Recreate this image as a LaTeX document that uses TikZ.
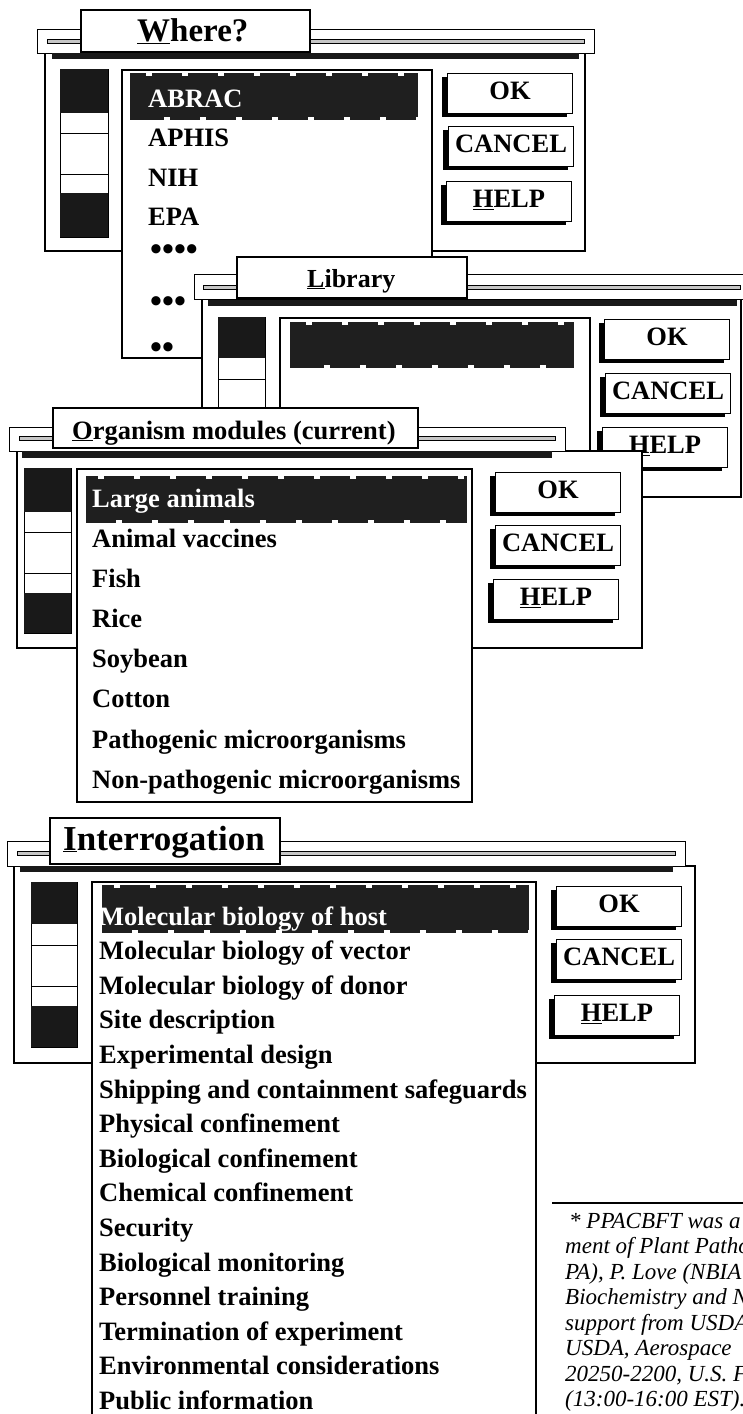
\documentclass[tikz,border=0pt]{standalone}
\usepackage{fontspec}
\setmainfont{Liberation Serif}
\usetikzlibrary{shadows}
\newcommand{\itemfont}{\bfseries\fontsize{26.5}{30}\selectfont}
\newcommand{\notafont}{\itshape\fontsize{23}{25}\selectfont}
\begin{document}
\begin{tikzpicture}[x=1pt, y=-1pt,
  janela/.style={draw, line width=2pt, fill=white},
  faixa/.style={draw, line width=1pt, fill=white},
  trilho/.style={draw, line width=0.6pt, fill=gray!45},
  titulo/.style={draw, line width=1.2pt, fill=white},
  barra/.style={fill=black!90},
  rolagem/.style={draw, line width=1pt, fill=white},
  lista/.style={draw, line width=1.3pt, fill=white},
  selecao/.style={fill=black!88},
  dentes/.style={white, line width=3pt, dash pattern=on 6pt off 30pt},
  rotulo/.style={anchor=base west, inner sep=0pt},
  item/.style={anchor=base west, inner sep=0pt, font=\itemfont},
  pontos/.style={anchor=base west, inner sep=0pt, font=\bfseries\fontsize{34}{36}\selectfont},
  botao/.style={draw, line width=1pt, fill=white, minimum width=125pt, minimum height=40pt,
    inner sep=0pt, text height=17pt, text depth=4pt, font=\itemfont,
    drop shadow={shadow xshift=-6pt, shadow yshift=-4pt, fill=black, opacity=1}},
  nota/.style={anchor=base west, inner sep=0pt, font=\notafont}]
\path[use as bounding box] (0,0) rectangle (743,1414);
\clip (0,0) rectangle (743,1414);
% Janela Where?
\draw[janela] (45,53) rectangle (585,251);
\draw[faixa] (37,29) rectangle (594,53);
\draw[trilho] (47,39) rectangle (584,43);
\draw[titulo] (81,10) rectangle (310,52);
\node[rotulo, font=\bfseries\fontsize{33}{36}\selectfont] (whereT) at (137,41) {\underline{W}here?};
\fill[barra] (52,53) rectangle (579,59);
\draw[rolagem] (60,69) rectangle (108,237);
\fill[barra] (60,69) rectangle (108,113);
\fill[barra] (60,193) rectangle (108,237);
\draw (60,133) -- (108,133);
\draw (60,174) -- (108,174);
\draw[lista] (122,70) rectangle (432,358);
\fill[selecao] (130,73) rectangle (418,120);
\draw[dentes] (146,74.5) -- (418,74.5);
\draw[dentes] (164,118.5) -- (418,118.5);
\node[item, text=white] (abrac) at (148,107) {ABRAC};
\node[item] (aphis) at (148,146.5) {APHIS};
\node[item] (nih) at (148,186) {NIH};
\node[item] (epa) at (148,225.5) {EPA};
\node[pontos] (pontos4) at (150,260) {••••};
\node[pontos] (pontos3) at (150,312) {•••};
\node[pontos] (pontos2) at (150,358) {••};
\node[botao] (okA) at (510,93) {OK};
\node[botao] (cancelA) at (511,146) {CANCEL};
\node[botao] (helpA) at (509,201) {\underline{H}ELP};
% Janela Library
\draw[janela] (202,299) rectangle (741,497);
\draw[faixa] (194,274) rectangle (750,299);
\draw[trilho] (203,285) rectangle (740,289);
\draw[titulo] (237,257) rectangle (467,298);
\node[rotulo, font=\bfseries\fontsize{26}{30}\selectfont] (libT) at (307,287) {\underline{L}ibrary};
\fill[barra] (208,300) rectangle (737,306);
\draw[rolagem] (218,317) rectangle (265,482);
\fill[barra] (218,317) rectangle (265,358);
\draw (218,379) -- (265,379);
\draw[lista] (280,318) rectangle (590,480);
\fill[selecao] (290,322) rectangle (574,368);
\draw[dentes] (306,323.5) -- (574,323.5);
\draw[dentes] (324,366.5) -- (574,366.5);
\node[botao] (okB) at (667,339) {OK};
\node[botao] (cancelB) at (668,393) {CANCEL};
\node[botao] (helpB) at (665,447) {\underline{H}ELP};
% Janela Organism modules
\draw[janela] (17,451) rectangle (642,648);
\draw[faixa] (9,427) rectangle (565,451);
\draw[trilho] (19,436) rectangle (555,440);
\draw[titulo] (53,408) rectangle (418,448);
\node[rotulo, font=\bfseries\fontsize{26.5}{30}\selectfont] (orgT) at (72,439) {\underline{O}rganism modules (current)};
\fill[barra] (22,451) rectangle (552,458);
\draw[rolagem] (24,468) rectangle (71,633);
\fill[barra] (24,468) rectangle (71,512);
\fill[barra] (24,593) rectangle (71,633);
\draw (24,532) -- (71,532);
\draw (24,573) -- (71,573);
\draw[lista] (77,469) rectangle (472,802);
\fill[selecao] (86,476) rectangle (467,523);
\draw[dentes] (98,477.5) -- (467,477.5);
\draw[dentes] (116,521.5) -- (467,521.5);
\node[item, text=white] (grandes) at (92,507) {Large animals};
\node[item] (vacinas) at (92,547) {Animal vaccines};
\node[item] (peixe) at (92,587) {Fish};
\node[item] (arroz) at (92,627) {Rice};
\node[item] (soja) at (92,667) {Soybean};
\node[item] (algodao) at (92,707) {Cotton};
\node[item] (patog) at (92,748) {Pathogenic microorganisms};
\node[item] (naopatog) at (92,788) {Non-pathogenic microorganisms};
\node[botao] (okC) at (558,492) {OK};
\node[botao] (cancelC) at (558,545) {CANCEL};
\node[botao] (helpC) at (556,599) {\underline{H}ELP};
% Janela Interrogation
\draw[janela] (14,866) rectangle (695,1063);
\draw[faixa] (7,841) rectangle (685,866);
\draw[trilho] (17,851) rectangle (675,855);
\draw[titulo] (50,818) rectangle (280,864);
\node[rotulo, font=\bfseries\fontsize{35}{38}\selectfont] (intT) at (63,850) {\underline{I}nterrogation};
\fill[barra] (20,866) rectangle (673,872);
\draw[rolagem] (31,882) rectangle (77,1047);
\fill[barra] (31,882) rectangle (77,924);
\fill[barra] (31,1006) rectangle (77,1047);
\draw (31,945) -- (77,945);
\draw (31,986) -- (77,986);
\draw[lista] (92,882) rectangle (536,1430);
\fill[selecao] (102,885) rectangle (529,933);
\draw[dentes] (114,886.5) -- (529,886.5);
\draw[dentes] (132,931.5) -- (529,931.5);
\node[item, text=white] (hospedeiro) at (99,925) {Molecular biology of host};
\node[item] (vetor) at (99,959.6) {Molecular biology of vector};
\node[item] (doador) at (99,994.2) {Molecular biology of donor};
\node[item] (sitio) at (99,1028.8) {Site description};
\node[item] (desenho) at (99,1063.4) {Experimental design};
\node[item] (envio) at (99,1098) {Shipping and containment safeguards};
\node[item] (fisico) at (99,1132.6) {Physical confinement};
\node[item] (biologico) at (99,1167.2) {Biological confinement};
\node[item] (quimico) at (99,1201.8) {Chemical confinement};
\node[item] (seguranca) at (99,1236.4) {Security};
\node[item] (monitor) at (99,1271) {Biological monitoring};
\node[item] (pessoal) at (99,1305.6) {Personnel training};
\node[item] (termino) at (99,1340.2) {Termination of experiment};
\node[item] (ambiente) at (99,1374.8) {Environmental considerations};
\node[item] (publico) at (99,1409.4) {Public information};
\node[botao] (okD) at (619,906) {OK};
\node[botao] (cancelD) at (619,959) {CANCEL};
\node[botao] (helpD) at (617,1015) {\underline{H}ELP};
% Nota de rodape
\draw[line width=1.5pt] (552,1203) -- (750,1203);
\node[nota] (nota1) at (569,1228) {* PPACBFT was a};
\node[nota] (nota2) at (565,1253.5) {ment of Plant Patho};
\node[nota] (nota3) at (565,1279) {PA), P. Love (NBIA};
\node[nota] (nota4) at (565,1304.5) {Biochemistry and N};
\node[nota] (nota5) at (565,1330) {support from USDA};
\node[nota] (nota6) at (565,1355.5) {USDA, Aerospace};
\node[nota] (nota7) at (565,1381) {20250-2200, U.S. F};
\node[nota] (nota8) at (565,1406.5) {(13:00-16:00 EST).};
\end{tikzpicture}
\end{document}
